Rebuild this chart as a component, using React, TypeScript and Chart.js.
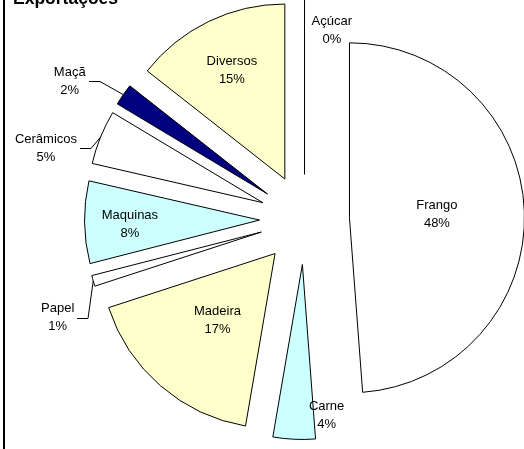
import React, { useEffect, useRef } from 'react';
import { Chart, registerables } from 'chart.js';

Chart.register(...registerables);

// ---- data ----
const categories = ['Açúcar', 'Frango', 'Carne', 'Madeira', 'Papel', 'Maquinas', 'Cerâmicos', 'Maçã', 'Diversos'];
const values = [0, 48.8, 3.9, 17.3, 1.0, 7.6, 5.0, 2.0, 14.4];
const percentLabels = ['0%', '48%', '4%', '17%', '1%', '8%', '5%', '2%', '15%'];
const titleText = 'Exportações';

// ---- styles / label layout (not data) ----
const sliceColors = ['#FFFFFF', '#FFFFFF', '#CCFFFF', '#FFFFCC', '#FFFFFF', '#CCFFFF', '#FFFFFF', '#000080', '#FFFFCC'];
const labelDist = [0.84, 0.5, 0.871, 0.503, 1.262, 0.741, 1.277, 1.3, 0.692];
const labelTurnDeg = [10.7, 0, -11.85, 0, -6.6, -1.25, -7.9, -4.9, 0];
const hasLeader = [false, false, false, false, true, false, true, true, false];
const EXPLODE = 45;
const RADIUS = 175;
const FONT = '13px "Liberation Sans", Arial, sans-serif';

const explodePlugin = {
  id: 'explodedPie',
  beforeDatasetDraw(chart: any, args: any) {
    const ctx = chart.ctx;
    args.meta.data.forEach((arc: any) => {
      const { x, y, startAngle, endAngle, outerRadius } = arc;
      const mid = (startAngle + endAngle) / 2;
      ctx.save();
      ctx.translate(Math.cos(mid) * EXPLODE, Math.sin(mid) * EXPLODE);
      if (endAngle - startAngle === 0) {
        ctx.beginPath();
        ctx.moveTo(x, y);
        ctx.lineTo(x + Math.cos(mid) * outerRadius, y + Math.sin(mid) * outerRadius);
        ctx.strokeStyle = arc.options.borderColor;
        ctx.lineWidth = arc.options.borderWidth;
        ctx.stroke();
      } else {
        arc.draw(ctx);
      }
      ctx.restore();
    });
    return false;
  },
  afterDatasetsDraw(chart: any) {
    const ctx = chart.ctx;
    const meta = chart.getDatasetMeta(0);
    ctx.save();
    ctx.font = FONT;
    ctx.fillStyle = '#000';
    ctx.textAlign = 'center';
    ctx.textBaseline = 'middle';
    meta.data.forEach((arc: any, i: number) => {
      const { x, y, startAngle, endAngle, outerRadius } = arc;
      const mid = (startAngle + endAngle) / 2;
      const ax = x + Math.cos(mid) * EXPLODE;
      const ay = y + Math.sin(mid) * EXPLODE;
      const a = mid + (labelTurnDeg[i] * Math.PI) / 180;
      const lx = ax + Math.cos(a) * outerRadius * labelDist[i];
      const ly = ay + Math.sin(a) * outerRadius * labelDist[i];
      ctx.fillText(categories[i], lx, ly - 9);
      ctx.fillText(percentLabels[i], lx, ly + 9);
      if (hasLeader[i]) {
        const w = ctx.measureText(categories[i]).width;
        const sx = lx + w / 2 + 3;
        const cx = lx + w / 2 + 14;
        const ex = ax + Math.cos(mid) * outerRadius;
        const ey = ay + Math.sin(mid) * outerRadius;
        ctx.beginPath();
        ctx.moveTo(Math.round(sx), Math.round(ly) + 0.5);
        ctx.lineTo(Math.round(cx), Math.round(ly) + 0.5);
        ctx.lineTo(ex, ey);
        ctx.strokeStyle = '#000';
        ctx.lineWidth = 1;
        ctx.stroke();
      }
    });
    ctx.restore();
  },
  afterDraw(chart: any) {
    const ctx = chart.ctx;
    ctx.save();
    ctx.fillStyle = '#000';
    ctx.fillRect(3, 0, 2, chart.height);
    ctx.font = 'bold 17.5px "Liberation Sans", Arial, sans-serif';
    ctx.textAlign = 'left';
    ctx.textBaseline = 'alphabetic';
    ctx.fillText(titleText, 13, 3.5);
    ctx.restore();
  },
};

export default function App() {
  const ref = useRef<HTMLCanvasElement | null>(null);
  useEffect(() => {
    if (!ref.current) return;
    const chart = new Chart(ref.current, {
      type: 'pie',
      data: {
        labels: categories,
        datasets: [
          {
            data: values,
            backgroundColor: sliceColors,
            borderColor: '#000',
            borderWidth: 1,
            borderJoinStyle: 'miter',
            radius: RADIUS,
          } as any,
        ],
      },
      options: {
        animation: false,
        responsive: false,
        events: [],
        rotation: 0,
        layout: { padding: { left: 85, right: 0, top: 0, bottom: 10 } },
        plugins: {
          legend: { display: false },
          title: { display: false },
          tooltip: { enabled: false },
        },
      } as any,
      plugins: [explodePlugin],
    });
    return () => chart.destroy();
  }, []);
  return (
    <div style={{ position: 'absolute', left: 0, top: 0, width: 524, height: 449, background: '#fff' }}>
      <canvas ref={ref} width={524} height={449} style={{ display: 'block' }} />
    </div>
  );
}
